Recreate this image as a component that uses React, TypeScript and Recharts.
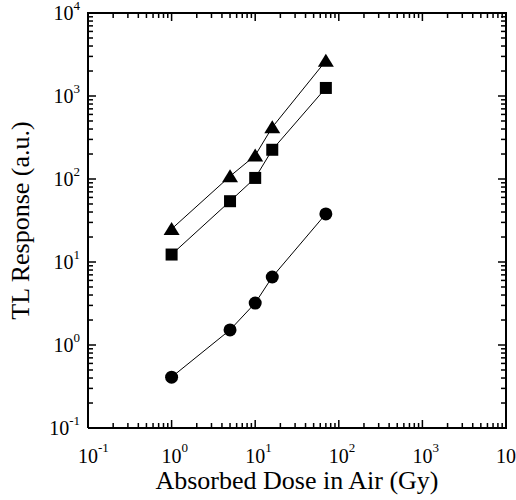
import { ScatterChart, Scatter, XAxis, YAxis } from 'recharts';

// absorbed dose (Gy) and TL response (a.u.) for the three detectors
const doses = [1, 5, 10, 16, 70];
const triangleResp = [25, 108, 192, 420, 2650];
const squareResp = [12.3, 54, 103, 225, 1250];
const circleResp = [0.41, 1.52, 3.2, 6.6, 38];

const majorTicks = [0.1, 1, 10, 100, 1000, 10000];
const exponents = ['-1', '0', '1', '2', '3', '4'];
const minorSteps = [2, 3, 4, 5, 6, 7, 8, 9];

const allTicks = [
  ...majorTicks,
  ...majorTicks.slice(0, -1).flatMap((d) => minorSteps.map((k) => k * d)),
].sort((a, b) => a - b);

const LO = 0.1;
const HI = 10000;

const FONT = '"Liberation Serif", "Times New Roman", serif';
const MAJOR_LEN = 8;
const MINOR_LEN = 5;
const TW = 1.5;

const toRows = (ys: number[]) => doses.map((x, i) => ({ x, y: ys[i] }));
const triangles = toRows(triangleResp);
const squares = toRows(squareResp);
const circles = toRows(circleResp);

const majorIndex = (v: number) => majorTicks.findIndex((m) => Math.abs(m - v) / m < 1e-6);

// tick marks are drawn as points on the frame, placed by the chart's scales
const bottomMarks = allTicks.map((v) => ({ x: v, y: LO, major: majorIndex(v) >= 0 }));
const topMarks = allTicks.map((v) => ({ x: v, y: HI, major: majorIndex(v) >= 0 }));
const leftMarks = allTicks.map((v) => ({ x: LO, y: v, major: majorIndex(v) >= 0 }));
const rightMarks = allTicks.map((v) => ({ x: HI, y: v, major: majorIndex(v) >= 0 }));
const frameCorners = [
  { x: LO, y: LO },
  { x: HI, y: LO },
  { x: HI, y: HI },
  { x: LO, y: HI },
  { x: LO, y: LO },
];

const markLen = (p: any) => (p && p.major ? MAJOR_LEN : MINOR_LEN);

function BottomMark({ cx, cy, payload }: any) {
  const len = markLen(payload);
  return <rect x={cx - TW / 2} y={cy - len} width={TW} height={len} fill="#000" />;
}

function TopMark({ cx, cy, payload }: any) {
  const len = markLen(payload);
  return <rect x={cx - TW / 2} y={cy} width={TW} height={len} fill="#000" />;
}

function LeftMark({ cx, cy, payload }: any) {
  const len = markLen(payload);
  return <rect x={cx} y={cy - TW / 2} width={len} height={TW} fill="#000" />;
}

function RightMark({ cx, cy, payload }: any) {
  const len = markLen(payload);
  return <rect x={cx - len} y={cy - TW / 2} width={len} height={TW} fill="#000" />;
}

function NoMark() {
  return <g />;
}

function BottomLabel(props: any) {
  const x = Number(props.x);
  const y = Number(props.y);
  const idx = majorIndex(props.payload.value);
  if (idx < 0) return <g />;
  return (
    <text x={x - 10} y={y + 35} fontFamily={FONT} fontSize={20} fill="#000">
      10
      <tspan dy={-11} fontSize={13}>{exponents[idx]}</tspan>
    </text>
  );
}

function LeftLabel(props: any) {
  const x = Number(props.x);
  const y = Number(props.y);
  const idx = majorIndex(props.payload.value);
  if (idx < 0) return <g />;
  return (
    <text x={x - 8} y={y + 7} textAnchor="end" fontFamily={FONT} fontSize={20} fill="#000">
      10
      <tspan dy={-10} fontSize={13}>{exponents[idx]}</tspan>
    </text>
  );
}

function XTitle(props: any) {
  const vb = props.viewBox;
  const cx = vb ? vb.x + vb.width / 2 : 297;
  const by = vb ? vb.y + vb.height - 11 : 489;
  return (
    <text x={cx} y={by} textAnchor="middle" fontFamily={FONT} fontSize={26} fill="#000">
      Absorbed Dose in Air (Gy)
    </text>
  );
}

function YTitle(props: any) {
  const vb = props.viewBox;
  const cx = vb ? vb.x + 29 : 29;
  const cy = vb ? vb.y + vb.height / 2 : 220;
  return (
    <text
      x={cx}
      y={cy}
      textAnchor="middle"
      transform={`rotate(-90 ${cx} ${cy})`}
      fontFamily={FONT}
      fontSize={26}
      fill="#000"
    >
      TL Response (a.u.)
    </text>
  );
}

function Triangle({ cx, cy }: any) {
  return <path d={`M${cx},${cy - 7} L${cx + 8},${cy + 6} L${cx - 8},${cy + 6} Z`} fill="#000" />;
}

function Square({ cx, cy }: any) {
  return <rect x={cx - 6} y={cy - 6} width={12} height={12} fill="#000" />;
}

function Dot({ cx, cy }: any) {
  return <circle cx={cx} cy={cy} r={6.5} fill="#000" />;
}

const domain: [number, number] = [LO, HI];

export default function App() {
  return (
    <div style={{ position: 'absolute', left: 0, top: 0, background: '#fff' }}>
      <ScatterChart width={516} height={500} margin={{ top: 13, right: 10, left: 0, bottom: 0 }}>
        <XAxis
          dataKey="x"
          type="number"
          scale="log"
          domain={domain}
          ticks={allTicks}
          interval={0}
          height={72}
          axisLine={false}
          tickSize={0}
          tickMargin={0}
          tickLine={false}
          tick={<BottomLabel />}
          label={<XTitle />}
        />
        <YAxis
          dataKey="y"
          type="number"
          scale="log"
          domain={domain}
          ticks={allTicks}
          interval={0}
          width={88}
          axisLine={false}
          tickSize={0}
          tickMargin={0}
          tickLine={false}
          tick={<LeftLabel />}
          label={<YTitle />}
        />
        <Scatter
          data={frameCorners}
          line={{ stroke: '#000', strokeWidth: 2 }}
          shape={<NoMark />}
          isAnimationActive={false}
        />
        <Scatter data={bottomMarks} shape={<BottomMark />} isAnimationActive={false} />
        <Scatter data={topMarks} shape={<TopMark />} isAnimationActive={false} />
        <Scatter data={leftMarks} shape={<LeftMark />} isAnimationActive={false} />
        <Scatter data={rightMarks} shape={<RightMark />} isAnimationActive={false} />
        <Scatter
          data={circles}
          line={{ stroke: '#000', strokeWidth: 1 }}
          shape={<Dot />}
          isAnimationActive={false}
        />
        <Scatter
          data={squares}
          line={{ stroke: '#000', strokeWidth: 1 }}
          shape={<Square />}
          isAnimationActive={false}
        />
        <Scatter
          data={triangles}
          line={{ stroke: '#000', strokeWidth: 1 }}
          shape={<Triangle />}
          isAnimationActive={false}
        />
      </ScatterChart>
    </div>
  );
}
